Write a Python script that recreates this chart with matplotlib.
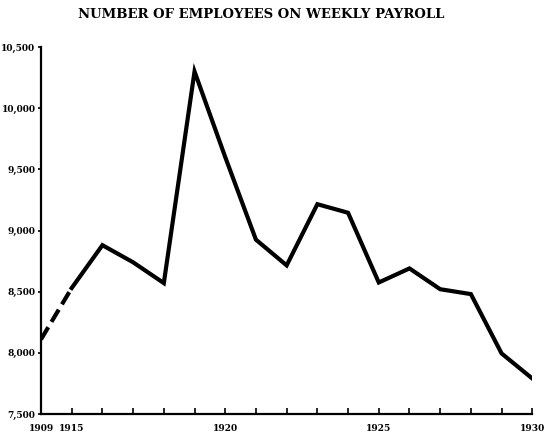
import numpy as np
import matplotlib
matplotlib.use("Agg")
import matplotlib.pyplot as plt
from matplotlib.ticker import FixedLocator, FuncFormatter

# Data
years_dashed = [1909, 1915]
values_dashed = [8110, 8530]
years = [1915, 1916, 1917, 1918, 1919, 1920, 1921, 1922, 1923, 1924,
         1925, 1926, 1927, 1928, 1929, 1930]
values = [8530, 8880, 8740, 8570, 10300, 9600, 8925, 8715, 9215, 9145,
          8575, 8690, 8520, 8480, 7995, 7790]
x_major = [1909, 1915, 1920, 1925, 1930]
y_ticks = [7500, 8000, 8500, 9000, 9500, 10000, 10500]
title = "NUMBER OF EMPLOYEES ON WEEKLY PAYROLL"

# Broken x scale: 1909-1915 compressed to the width of one year
def fwd(x):
    x = np.asarray(x, dtype=float)
    return np.where(x < 1915, 1915 - (1915 - x) / 6.0, x)

def inv(x):
    x = np.asarray(x, dtype=float)
    return np.where(x < 1915, 1915 - (1915 - x) * 6.0, x)

fig = plt.figure(figsize=(5.44, 4.34), dpi=100)
ax = fig.add_axes([41 / 544, 1 - 414 / 434, (532.3 - 41) / 544, (414 - 47) / 434])
ax.set_xscale("function", functions=(fwd, inv))

ax.plot(years_dashed, values_dashed, color="black", lw=3.0,
        linestyle=(0, (3.4, 1.5)), solid_capstyle="butt", dash_capstyle="butt")
ax.plot(years, values, color="black", lw=3.0, solid_joinstyle="miter")

ax.set_xlim(1909, 1930)
ax.set_ylim(7500, 10500)

for s in ["top", "right"]:
    ax.spines[s].set_visible(False)
ax.spines["left"].set_linewidth(1.6)
ax.spines["bottom"].set_linewidth(1.6)

ax.xaxis.set_major_locator(FixedLocator(x_major))
ax.xaxis.set_minor_locator(FixedLocator(list(range(1916, 1930))))
ax.set_xticklabels([str(y) for y in x_major])
ax.yaxis.set_major_locator(FixedLocator(y_ticks))
ax.yaxis.set_major_formatter(FuncFormatter(lambda v, p: f"{int(v):,}"))

ax.tick_params(axis="x", which="both", direction="in", length=4, width=1.2, pad=7,
               labelsize=6.5)
ax.tick_params(axis="y", which="both", direction="out", length=2, width=1.2, pad=2,
               labelsize=6.5)
for lab in ax.get_xticklabels() + ax.get_yticklabels():
    lab.set_fontfamily("DejaVu Serif")
    lab.set_fontweight("bold")

fig.text(261 / 544, 1 - 15 / 434, title, ha="center", va="center", fontsize=9.5,
         family="DejaVu Serif", weight="bold")

fig.savefig("out.png", dpi=100)
